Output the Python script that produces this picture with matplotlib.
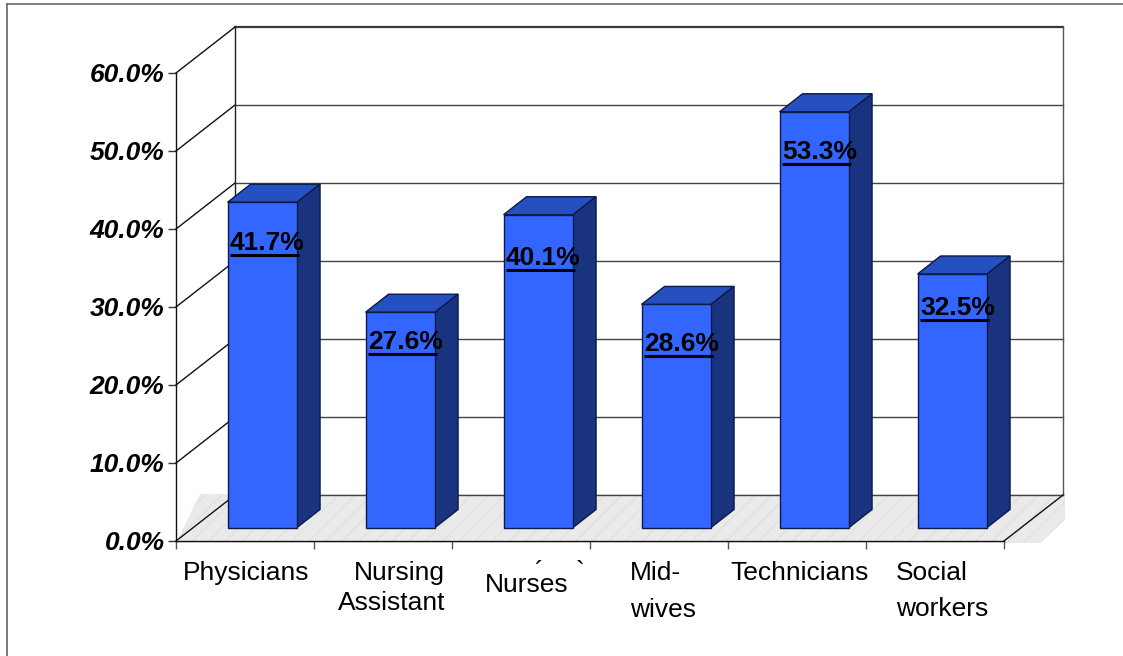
import matplotlib
matplotlib.use("Agg")
import matplotlib.pyplot as plt
from matplotlib.patches import Polygon
from matplotlib.lines import Line2D
import numpy as np

plt.rcParams['font.family'] = ['Liberation Sans', 'DejaVu Sans']
plt.rcParams['hatch.linewidth'] = 0.8

values = [41.7, 27.6, 40.1, 28.6, 53.3, 32.5]
value_labels = ['41.7%', '27.6%', '40.1%', '28.6%', '53.3%', '32.5%']
ytick_values = [0, 10, 20, 30, 40, 50, 60]
ytick_labels = ['0.0%', '10.0%', '20.0%', '30.0%', '40.0%', '50.0%', '60.0%']

W, H = 1123, 656
L, R, B, T = 176, 1004, 541, 73
fig = plt.figure(figsize=(W / 100, H / 100), dpi=100, facecolor='white')
ax = fig.add_axes([L / W, 1 - B / H, (R - L) / W, (B - T) / H])
ax.set_xlim(0, 6)
ax.set_ylim(0, 60)
ax.patch.set_visible(False)

PX = 6 / (R - L)
PY = 60 / (B - T)


def X(p):
    return (p - L) * PX


def Y(p):
    return (B - p) * PY


# depth of the 3D box and of each bar, pixels
DX, DY = 59 * PX, 46 * PY
BDX, BDY = 23 * PX, 18 * PY
SX, SY = 17.3 * PX, 13.5 * PY
BW = 69.5 * PX

# floor
ax.add_patch(Polygon([(X(176), Y(543)), (X(200), Y(494)), (X(1065), Y(494)),
                      (X(1065), Y(520)), (X(1040), Y(543))], closed=True,
                     facecolor='#eaeaea', edgecolor='#e0dfde', hatch='//',
                     linewidth=0, clip_on=False, zorder=1))

# back wall and side grid
for v in ytick_values:
    ax.plot([DX, 6 + DX], [v + DY, v + DY], color='#3a3a3a' if v == 60 else '#444444',
            lw=1.6 if v == 60 else 1.0, clip_on=False, zorder=2)
    ax.plot([0, DX], [v, v + DY], color='#111111', lw=1.0, clip_on=False, zorder=2)
ax.plot([DX, DX], [DY, 60 + DY], color='#222222', lw=1.0, clip_on=False, zorder=2)
ax.plot([6 + DX, 6 + DX], [DY, 60 + DY], color='#555555', lw=1.0, clip_on=False, zorder=2)
ax.plot([6, 6 + DX], [0, DY], color='#111111', lw=1.0, clip_on=False, zorder=2)

# bars
edge = '#0b1a4a'
positions = np.arange(len(values)) + 0.5
ax.bar(positions + SX, values, width=BW, bottom=SY, color='#3366ff',
       edgecolor=edge, linewidth=1.0, zorder=5, clip_on=False)
for xc, v in zip(positions, values):
    x0 = xc + SX - BW / 2
    x1 = xc + SX + BW / 2
    top = v + SY
    ax.add_patch(Polygon([(x0, top), (x1, top), (x1 + BDX, top + BDY), (x0 + BDX, top + BDY)],
                         closed=True, facecolor='#264fbf', edgecolor=edge, lw=1.0,
                         zorder=4, clip_on=False))
    ax.add_patch(Polygon([(x1, SY), (x1, top), (x1 + BDX, top + BDY), (x1 + BDX, SY + BDY)],
                         closed=True, facecolor='#1a337f', edgecolor=edge, lw=1.0,
                         zorder=4, clip_on=False))

# data labels with their underlines
under_y = [255, 354, 270, 356, 164, 320]
for xc, lab, uy in zip(positions, value_labels, under_y):
    x0 = xc + SX - BW / 2
    ax.text(x0 + 2.5 * PX, Y(uy - 5), lab, fontsize=19, fontweight='bold', color='black',
            ha='left', va='baseline', zorder=7, clip_on=False)
    ax.plot([x0 + 2.5 * PX, x0 + 71 * PX], [Y(uy), Y(uy)], color='black', lw=2.2,
            solid_capstyle='butt', zorder=7, clip_on=False)

# axes
for s in ('top', 'right'):
    ax.spines[s].set_visible(False)
for s in ('left', 'bottom'):
    ax.spines[s].set_linewidth(1.0)
    ax.spines[s].set_color('#111111')
    ax.spines[s].set_zorder(3)
ax.set_yticks(ytick_values)
ax.set_yticklabels(ytick_labels, fontsize=19, fontweight='bold', fontstyle='italic')
ax.tick_params(axis='y', length=5.8, width=1.0, pad=2.4, color='#333333')
ax.set_xticks(np.arange(7))
ax.set_xticklabels([])
ax.tick_params(axis='x', length=5.8, width=1.0, color='#555555')

# category labels, line by line as placed in the original
cat_lines = [
    ('Physicians', 183, 580, 'left'),
    ('Nursing', 445, 580, 'right'),
    ('Assistant', 445, 610, 'right'),
    ('Nurses', 485, 592, 'left'),
    ('Mid-', 630, 580, 'left'),
    ('wives', 630, 617, 'left'),
    ('Technicians', 730, 580, 'left'),
    ('Social', 896, 580, 'left'),
    ('workers', 896, 616, 'left'),
]
for txt, px, py, ha in cat_lines:
    ax.text(X(px), Y(py), txt, fontsize=19, color='black', ha=ha, va='baseline', clip_on=False)
ax.text(X(534), Y(579), '´', fontsize=19, color='black', ha='left', va='baseline', clip_on=False)
ax.text(X(576), Y(579), '`', fontsize=19, color='black', ha='left', va='baseline', clip_on=False)

# outer frame
fig.add_artist(Line2D([7 / W, 7 / W], [0, 1 - 3.5 / H], color='#666666', lw=1.2))
fig.add_artist(Line2D([7 / W, 1], [1 - 3.5 / H, 1 - 3.5 / H], color='#666666', lw=1.2))

fig.savefig('out.png', dpi=100)
